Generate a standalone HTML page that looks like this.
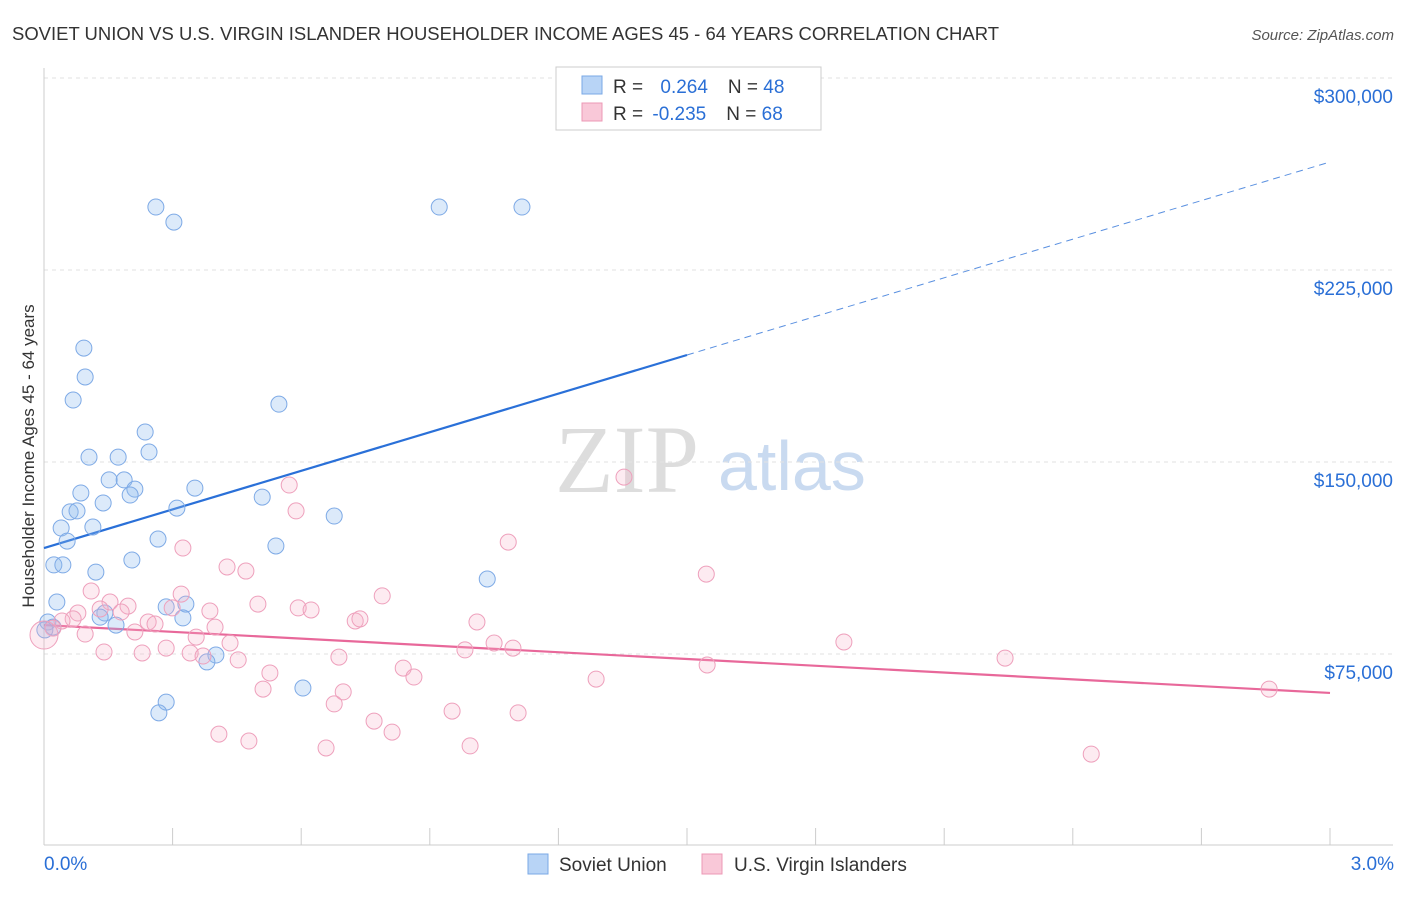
<!DOCTYPE html>
<html><head><meta charset="utf-8"><style>
body{margin:0;background:#fff;font-family:"Liberation Sans",sans-serif}
</style></head><body>
<svg id="chart" width="1406" height="892" viewBox="0 0 1406 892" xmlns="http://www.w3.org/2000/svg" font-family="Liberation Sans, sans-serif">
<text x="12" y="40" font-size="18" fill="#333" textLength="987" lengthAdjust="spacingAndGlyphs">SOVIET UNION VS U.S. VIRGIN ISLANDER HOUSEHOLDER INCOME AGES 45 - 64 YEARS CORRELATION CHART</text>
<text x="1394" y="40" font-size="15" fill="#555" text-anchor="end" font-style="italic">Source: ZipAtlas.com</text>
<text x="555" y="492" font-size="96" fill="#ddd" font-family="Liberation Serif, serif">ZIP</text>
<text x="718" y="490" font-size="70" fill="#c9daf0">atlas</text>
<text transform="translate(34,456) rotate(-90)" font-size="17" fill="#333" text-anchor="middle">Householder Income Ages 45 - 64 years</text>
<g id="grid"></g><g id="axes"></g><g id="trends"></g><g id="pts"></g>
<g>
<rect x="556" y="67" width="265" height="63" fill="#fff" stroke="#ccc"/>
<rect x="582" y="76" width="20" height="18" fill="#b8d4f6" stroke="#7aa8e6"/>
<text x="613" y="93" font-size="19" fill="#333">R = <tspan fill="#2a6fd6" dx="12">0.264</tspan><tspan dx="20">N = </tspan><tspan fill="#2a6fd6">48</tspan></text>
<rect x="582" y="103" width="20" height="18" fill="#f9c8d8" stroke="#ec98b6"/>
<text x="613" y="120" font-size="19" fill="#333">R = <tspan fill="#2a6fd6" dx="4">-0.235</tspan><tspan dx="20">N = </tspan><tspan fill="#2a6fd6">68</tspan></text>
</g>
<g>
<rect x="528" y="854" width="20" height="20" fill="#b8d4f6" stroke="#7aa8e6"/>
<text x="559" y="871" font-size="19" fill="#333">Soviet Union</text>
<rect x="702" y="854" width="20" height="20" fill="#f9c8d8" stroke="#ec98b6"/>
<text x="734" y="871" font-size="19" fill="#333">U.S. Virgin Islanders</text>
</g>
</svg>
<script>
const blueX=[0.261,0.303,0.922,1.115,0.093,0.096,0.068,0.548,0.236,0.245,0.105,0.173,0.152,0.187,0.086,0.212,0.201,0.138,0.352,0.509,0.310,0.061,0.077,0.040,0.114,0.054,0.266,0.541,0.677,0.023,0.044,0.121,0.205,1.034,0.030,0.285,0.331,0.142,0.131,0.324,0.168,0.009,0.021,0.002,0.401,0.380,0.604,0.285,0.268];
const blueY=[249.6,243.7,249.6,249.6,194.5,183.2,174.2,172.6,161.7,153.9,151.9,151.9,143.0,143.0,137.9,139.4,137.1,134.0,139.8,136.3,132.0,130.5,130.9,124.2,124.6,119.1,119.9,117.2,128.9,109.8,109.8,107.0,111.7,104.3,95.3,93.4,94.5,91.0,89.4,89.1,86.3,87.5,85.5,84.4,74.6,71.9,61.7,56.2,52.0];
const pinkX=[1.353,0.572,0.588,1.083,0.324,1.545,0.427,0.471,0.110,0.320,0.789,0.154,0.499,0.079,0.196,0.593,0.623,0.180,0.131,0.387,0.299,1.010,0.726,0.737,0.068,0.042,0.243,0.259,0.399,0.021,0.000,0.096,0.212,0.355,0.434,1.866,1.050,1.094,0.982,0.140,0.229,0.285,0.341,0.371,0.453,0.688,2.242,1.547,0.838,0.527,0.863,1.288,0.511,0.698,2.858,0.677,0.952,1.106,0.770,0.408,0.812,0.478,0.658,0.994,2.443];
const pinkY=[144.1,141.0,130.9,118.7,116.4,106.2,109.0,107.4,99.6,98.4,97.7,95.3,94.5,91.0,93.7,93.0,92.2,91.4,92.6,91.8,93.0,87.5,87.9,88.7,88.7,87.9,87.5,86.7,85.5,85.1,82.4,82.8,83.6,81.6,79.3,79.7,79.3,77.3,76.6,75.8,75.4,77.3,75.4,74.2,72.7,73.8,73.4,70.7,69.5,67.6,66.0,65.2,61.3,60.2,61.3,55.5,52.7,52.0,48.8,43.7,44.5,41.0,38.3,39.1,35.9];
const yTicks=[75,150,225,300];
const yTickLabels=["$75,000","$150,000","$225,000","$300,000"];
const xTickVals=[0.3,0.6,0.9,1.2,1.5,1.8,2.1,2.4,2.7,3.0];
const blueTrend=[116.4,191.8,267.2]; // at x=0, 1.5, 3.0
const pinkTrend=[86.3,59.8]; // at x=0, 3.0
const NS='http://www.w3.org/2000/svg';
const sx=v=>44+v*1286/3;
const sy=v=>846-v*768/300;
function mk(tag,attrs,parent){const e=document.createElementNS(NS,tag);for(const k in attrs)e.setAttribute(k,attrs[k]);parent.appendChild(e);return e;}
const grid=document.getElementById('grid'),axes=document.getElementById('axes'),trends=document.getElementById('trends'),pts=document.getElementById('pts');
yTicks.forEach((t,i)=>{
 const l=mk('line',{x1:44,x2:1393,y1:sy(t),y2:sy(t),stroke:'#e2e2e2','stroke-dasharray':'4,4'},grid);
 
 
 const tx=mk('text',{x:1393,y:sy(t)+25,'font-size':19,fill:'#2a6fd6','text-anchor':'end'},axes);
 tx.textContent=yTickLabels[i];
 
 
});
const yl=mk('line',{x1:44,x2:44,y1:68,y2:845,stroke:'#ccc'},axes);


const xl=mk('line',{x1:44,x2:1393,y1:845,y2:845,stroke:'#ccc'},axes);


xTickVals.forEach(t=>{
 const l=mk('line',{x1:sx(t),x2:sx(t),y1:828,y2:845,stroke:'#ccc'},axes);
 
 
});
const x0=mk('text',{x:44,y:870,'font-size':19,fill:'#2a6fd6'},axes);x0.textContent='0.0%';


const x3=mk('text',{x:1394,y:870,'font-size':19,fill:'#2a6fd6','text-anchor':'end'},axes);x3.textContent='3.0%';


const bt1=mk('line',{x1:sx(0),y1:sy(blueTrend[0]),x2:sx(1.5),y2:sy(blueTrend[1]),stroke:'#2a70d8','stroke-width':2.2},trends);


const bt2=mk('line',{x1:sx(1.5),y1:sy(blueTrend[1]),x2:sx(3),y2:sy(blueTrend[2]),stroke:'#5a90e0','stroke-width':1,'stroke-dasharray':'7,5'},trends);


const pt=mk('line',{x1:sx(0),y1:sy(pinkTrend[0]),x2:sx(3),y2:sy(pinkTrend[1]),stroke:'#e8689a','stroke-width':2.2},trends);


blueX.forEach((x,i)=>{
 const c=mk('circle',{cx:sx(x),cy:sy(blueY[i]),r:8,fill:'rgba(140,185,240,0.3)',stroke:'#7eaae6','stroke-width':1},pts);
 
 
});
pinkX.forEach((x,i)=>{
 const c=mk('circle',{cx:sx(x),cy:sy(pinkY[i]),r:i===30?14:8,fill:'rgba(246,175,200,0.25)',stroke:'#eea0bc','stroke-width':1},pts);
 
 
});
</script>
</body></html>
